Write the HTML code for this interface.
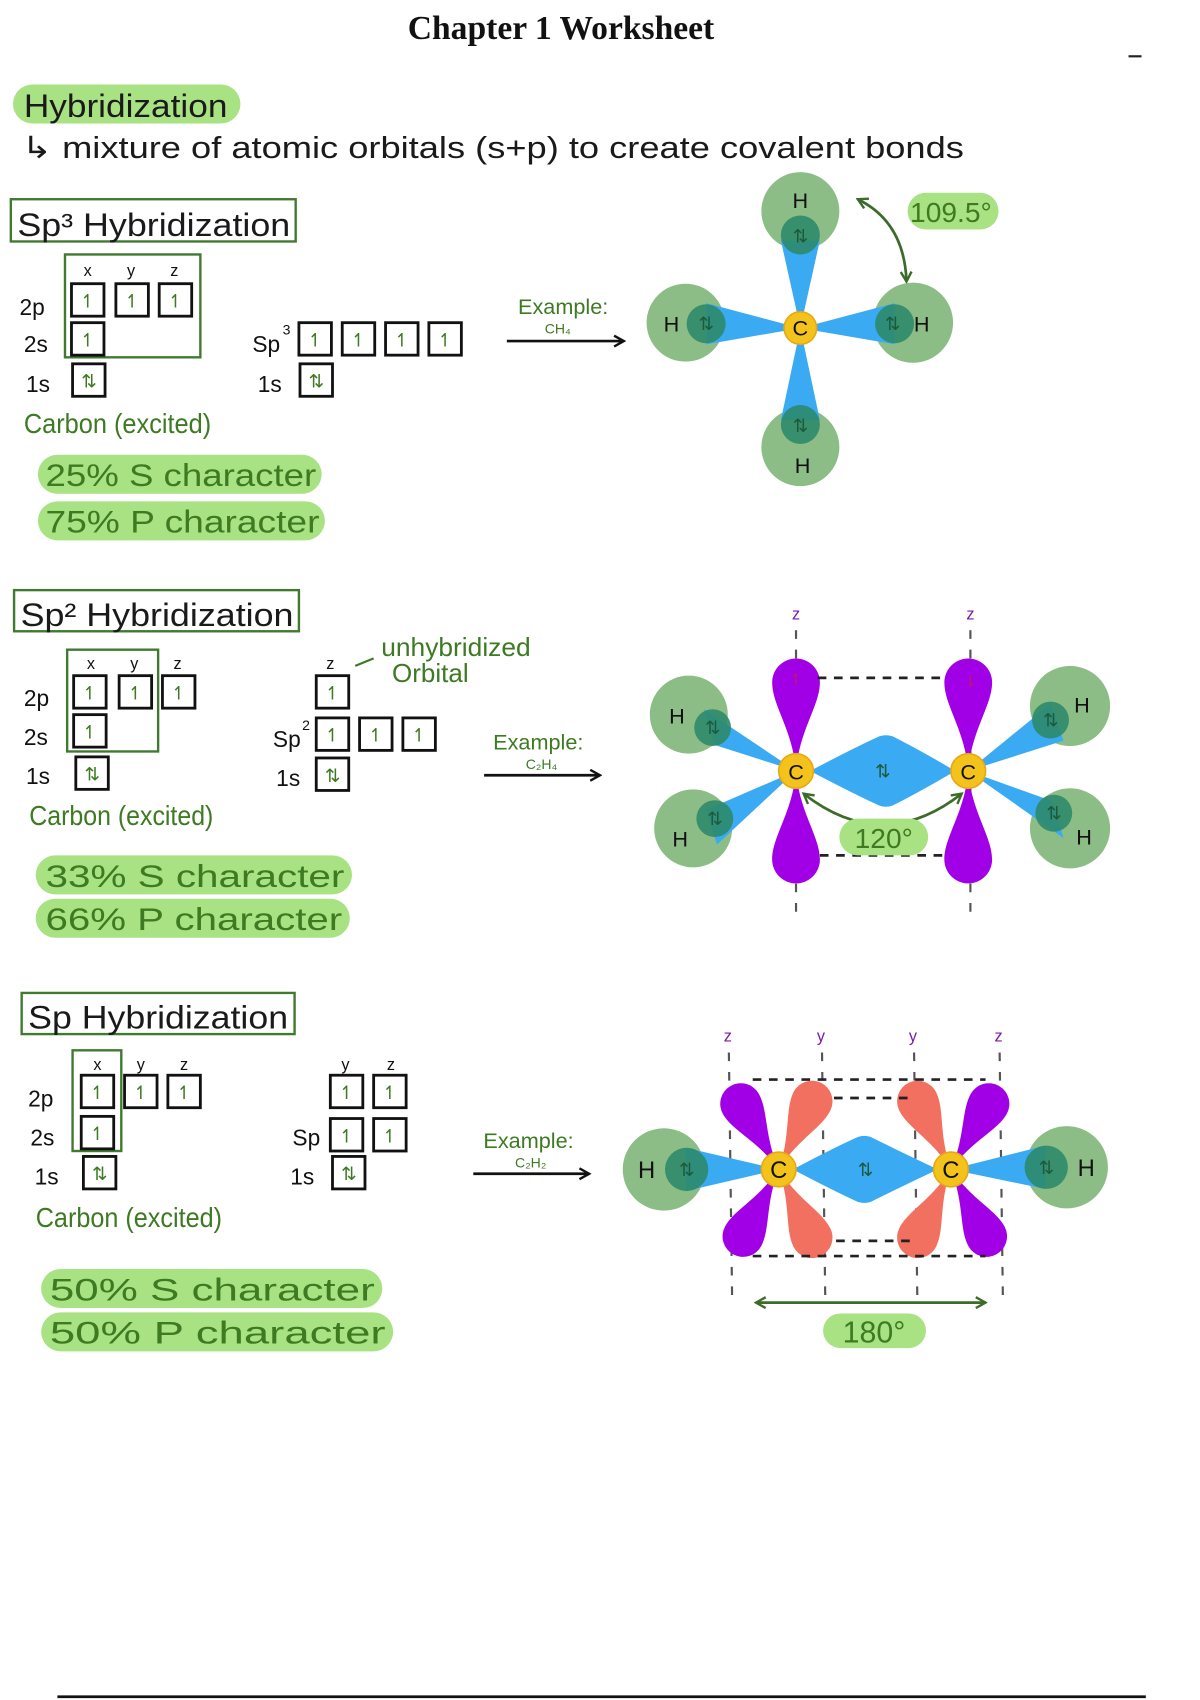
<!DOCTYPE html>
<html><head><meta charset="utf-8"><style>
html,body{margin:0;padding:0;background:#fff;width:1200px;height:1700px;overflow:hidden}
svg{display:block}
.h{font-family:"Liberation Sans Narrow","Liberation Sans",sans-serif}
.g{fill:#3d7a22}
.k{fill:#1a1a1a}
.bx{fill:none;stroke:#111;stroke-width:2.6}
.gb{fill:none;stroke:#3f7a2e;stroke-width:2.2}
.pill{fill:#a8e283}
.e{font-family:"DejaVu Sans",sans-serif;font-size:17px;fill:#3d7a22;text-anchor:middle}
.lab{font-family:"Liberation Sans",sans-serif;font-size:21px;fill:#111}
.sm{font-family:"Liberation Sans",sans-serif;font-size:15px;fill:#111;text-anchor:middle}
.sup{font-family:"Liberation Sans",sans-serif;font-size:13px;fill:#111}
.Hc{fill:#8dbd86}
.Hi{fill:#2d8a6c;opacity:.9}
.cone{fill:#3aaaf3}
.C{fill:#f3c31b;stroke:#e8a715;stroke-width:1.5}
.pu{fill:#a100e6}
.sa{fill:#f2705f}
.dash{stroke:#222;stroke-width:2.5;stroke-dasharray:8 7;fill:none}
.vd{stroke:#555;stroke-width:2;stroke-dasharray:8 10;fill:none}
</style></head><body>
<svg width="1200" height="1700" viewBox="0 0 1108 1570" preserveAspectRatio="none" xmlns="http://www.w3.org/2000/svg">
<defs>
<path id="lobe" d="M0,0 C-4,-36 -21,-56 -21,-76 A21,21 0 0 1 21,-76 C21,-56 4,-36 0,0Z"/>
<path id="lobe2" d="M0,0 C-4,-34 -19,-52 -19,-70 A19,19 0 0 1 19,-70 C19,-52 4,-34 0,0Z"/>
<marker id="ah" markerUnits="userSpaceOnUse" markerWidth="12" markerHeight="12" refX="10" refY="6" orient="auto"><path d="M1,1 L10,6 L1,11" fill="none" stroke="#111" stroke-width="2.2"/></marker>
<marker id="ag" markerUnits="userSpaceOnUse" markerWidth="12" markerHeight="12" refX="10" refY="6" orient="auto-start-reverse"><path d="M1,1 L10,6 L1,11" fill="none" stroke="#3d6b2a" stroke-width="2.2"/></marker>
</defs>

<text x="518" y="36" text-anchor="middle" font-family="Liberation Serif,serif" font-weight="bold" font-size="31" fill="#111">Chapter 1 Worksheet</text>
<line x1="1042" y1="52" x2="1054" y2="52" stroke="#222" stroke-width="2"/>

<rect class="pill" x="12" y="78" width="210" height="36" rx="18"/>
<text class="h k" x="22" y="108" font-size="30" textLength="188" lengthAdjust="spacingAndGlyphs">Hybridization</text>
<text class="h k" x="20" y="146" font-size="28" textLength="870" lengthAdjust="spacingAndGlyphs">↳ mixture of atomic orbitals (s+p) to create covalent bonds</text>

<!-- SP3 -->
<rect class="gb" x="10" y="184" width="263" height="39"/>
<text class="h k" x="16" y="218" font-size="30" textLength="252" lengthAdjust="spacingAndGlyphs">Sp³ Hybridization</text>
<rect class="gb" x="60" y="235" width="125" height="95"/>
<text class="sm" x="81" y="255">x</text><text class="sm" x="121" y="255">y</text><text class="sm" x="161" y="255">z</text>
<text class="lab" x="18" y="291">2p</text><text class="lab" x="22" y="325">2s</text><text class="lab" x="24" y="362">1s</text>
<rect class="bx" x="66" y="262" width="30" height="30"/><rect class="bx" x="107" y="262" width="30" height="30"/><rect class="bx" x="147" y="262" width="30" height="30"/>
<rect class="bx" x="66" y="298" width="30" height="30"/><rect class="bx" x="67" y="336" width="30" height="30"/>
<g class="e"><text x="81" y="284">↿</text><text x="122" y="284">↿</text><text x="162" y="284">↿</text><text x="81" y="320">↿</text><text x="82" y="358">⇅</text></g>
<text class="h g" x="22" y="400" font-size="26" textLength="173" lengthAdjust="spacingAndGlyphs">Carbon (excited)</text>
<rect class="pill" x="35" y="420" width="262" height="36" rx="18"/><text class="h g" x="42" y="449" font-size="29" textLength="250" lengthAdjust="spacingAndGlyphs">25% S character</text>
<rect class="pill" x="35" y="463" width="265" height="36" rx="18"/><text class="h g" x="42" y="492" font-size="29" textLength="253" lengthAdjust="spacingAndGlyphs">75% P character</text>

<text class="lab" x="233" y="325">Sp</text><text class="sup" x="261" y="309">3</text>
<rect class="bx" x="276" y="298" width="30" height="30"/><rect class="bx" x="316" y="298" width="30" height="30"/><rect class="bx" x="356" y="298" width="30" height="30"/><rect class="bx" x="396" y="298" width="30" height="30"/>
<text class="lab" x="238" y="362">1s</text><rect class="bx" x="277" y="336" width="30" height="30"/>
<g class="e"><text x="291" y="320">↿</text><text x="331" y="320">↿</text><text x="371" y="320">↿</text><text x="411" y="320">↿</text><text x="292" y="358">⇅</text></g>
<text class="h g" x="520" y="290" font-size="20" text-anchor="middle">Example:</text>
<text class="h g" x="515" y="308" font-size="13" text-anchor="middle">CH₄</text>
<line x1="468" y1="315" x2="576" y2="315" stroke="#111" stroke-width="2.5" marker-end="url(#ah)"/>

<!-- CH4 -->
<circle class="Hc" cx="739" cy="195" r="36"/><circle class="Hc" cx="633" cy="298" r="36"/><circle class="Hc" cx="843" cy="298" r="37"/><circle class="Hc" cx="739" cy="413" r="36"/>
<polygon class="cone" points="739,303 721,222 757,222"/><polygon class="cone" points="739,303 721,388 757,388"/>
<polygon class="cone" points="739,303 652,280 652,318"/><polygon class="cone" points="739,303 826,280 826,318"/>
<circle class="Hi" cx="739" cy="217" r="18"/><circle class="Hi" cx="652" cy="299" r="18"/><circle class="Hi" cx="826" cy="299" r="18"/><circle class="Hi" cx="739" cy="392" r="18"/>
<circle class="C" cx="739" cy="303" r="15"/>
<g font-family="Liberation Sans,sans-serif" font-size="20" fill="#111" text-anchor="middle"><text x="739" y="310">C</text><text x="739" y="192">H</text><text x="620" y="306">H</text><text x="851" y="306">H</text><text x="741" y="437">H</text></g>
<g class="e" style="fill:#1d5a3a"><text x="739" y="224">⇅</text><text x="652" y="305">⇅</text><text x="824" y="305">⇅</text><text x="739" y="399">⇅</text></g>
<path d="M792,184 Q835,205 837,260" fill="none" stroke="#3d6b2a" stroke-width="2.5" marker-start="url(#ag)" marker-end="url(#ag)"/>
<rect class="pill" x="838" y="178" width="84" height="34" rx="17"/><text class="h g" x="878" y="205" font-size="26" text-anchor="middle">109.5°</text>

<!-- SP2 -->
<rect class="gb" x="13" y="545" width="263" height="38"/>
<text class="h k" x="19" y="578" font-size="30" textLength="252" lengthAdjust="spacingAndGlyphs">Sp² Hybridization</text>
<rect class="gb" x="62" y="600" width="84" height="94"/>
<text class="sm" x="84" y="618">x</text><text class="sm" x="124" y="618">y</text><text class="sm" x="164" y="618">z</text>
<text class="lab" x="22" y="652">2p</text><text class="lab" x="22" y="688">2s</text><text class="lab" x="24" y="724">1s</text>
<rect class="bx" x="68" y="624" width="30" height="30"/><rect class="bx" x="110" y="624" width="30" height="30"/><rect class="bx" x="150" y="624" width="30" height="30"/>
<rect class="bx" x="68" y="660" width="30" height="30"/><rect class="bx" x="70" y="699" width="30" height="30"/>
<g class="e"><text x="83" y="646">↿</text><text x="125" y="646">↿</text><text x="165" y="646">↿</text><text x="83" y="682">↿</text><text x="85" y="721">⇅</text></g>
<text class="h g" x="27" y="762" font-size="26" textLength="170" lengthAdjust="spacingAndGlyphs">Carbon (excited)</text>
<rect class="pill" x="33" y="790" width="292" height="36" rx="18"/><text class="h g" x="42" y="819" font-size="29" textLength="276" lengthAdjust="spacingAndGlyphs">33% S character</text>
<rect class="pill" x="33" y="830" width="290" height="36" rx="18"/><text class="h g" x="42" y="859" font-size="29" textLength="274" lengthAdjust="spacingAndGlyphs">66% P character</text>

<text class="sm" x="305" y="618">z</text>
<rect class="bx" x="292" y="624" width="30" height="30"/>
<text class="lab" x="252" y="690">Sp</text><text class="sup" x="279" y="674">2</text>
<rect class="bx" x="292" y="663" width="30" height="30"/><rect class="bx" x="332" y="663" width="30" height="30"/><rect class="bx" x="372" y="663" width="30" height="30"/>
<text class="lab" x="255" y="726">1s</text><rect class="bx" x="292" y="700" width="30" height="30"/>
<g class="e"><text x="307" y="646">↿</text><text x="307" y="685">↿</text><text x="347" y="685">↿</text><text x="387" y="685">↿</text><text x="307" y="722">⇅</text></g>
<text class="h g" x="352" y="606" font-size="24" textLength="138" lengthAdjust="spacingAndGlyphs">unhybridized</text>
<text class="h g" x="362" y="630" font-size="24">Orbital</text>
<line x1="345" y1="608" x2="328" y2="615" stroke="#3d7a22" stroke-width="2"/>
<text class="h g" x="497" y="692" font-size="20" text-anchor="middle">Example:</text>
<text class="h g" x="500" y="710" font-size="13" text-anchor="middle">C₂H₄</text>
<line x1="447" y1="716" x2="554" y2="716" stroke="#111" stroke-width="2.5" marker-end="url(#ah)"/>

<!-- C2H4 -->
<line class="vd" x1="735" y1="582" x2="735" y2="850"/><line class="vd" x1="896" y1="582" x2="896" y2="850"/>
<text x="735" y="572" font-family="Liberation Sans,sans-serif" font-size="15" fill="#7a1aa8" text-anchor="middle">z</text>
<text x="896" y="572" font-family="Liberation Sans,sans-serif" font-size="15" fill="#7a1aa8" text-anchor="middle">z</text>
<circle class="Hc" cx="636" cy="660" r="36"/><circle class="Hc" cx="640" cy="765" r="36"/><circle class="Hc" cx="988" cy="652" r="37"/><circle class="Hc" cx="988" cy="765" r="37"/>
<use href="#lobe" class="pu" transform="translate(735,710) scale(1.05)"/>
<use href="#lobe" class="pu" transform="translate(735,714) rotate(180) scale(1.05)"/>
<use href="#lobe" class="pu" transform="translate(894,710) scale(1.05)"/>
<use href="#lobe" class="pu" transform="translate(894,714) rotate(180) scale(1.05)"/>
<polygon class="cone" points="735,712 650,655 660,688"/><polygon class="cone" points="735,712 652,748 662,780"/>
<polygon class="cone" points="894,712 970,650 982,684"/><polygon class="cone" points="894,712 972,740 982,774"/>
<path class="cone" d="M748,712 Q790,690 812,680 Q818,678 824,680 Q848,692 882,712 Q848,732 824,744 Q818,746 812,744 Q790,734 748,712Z"/>
<circle class="Hi" cx="658" cy="672" r="17"/><circle class="Hi" cx="660" cy="756" r="17"/><circle class="Hi" cx="970" cy="665" r="17"/><circle class="Hi" cx="973" cy="751" r="17"/>
<line class="dash" x1="755" y1="626" x2="875" y2="626"/><line class="dash" x1="757" y1="790" x2="875" y2="790"/>
<circle class="C" cx="735" cy="712" r="16"/><circle class="C" cx="894" cy="712" r="16"/>
<g font-family="Liberation Sans,sans-serif" font-size="20" fill="#111" text-anchor="middle"><text x="735" y="720">C</text><text x="894" y="720">C</text><text x="625" y="668">H</text><text x="628" y="782">H</text><text x="999" y="658">H</text><text x="1001" y="780">H</text></g>
<g class="e" style="fill:#1d5a3a"><text x="658" y="678">⇅</text><text x="660" y="762">⇅</text><text x="970" y="671">⇅</text><text x="973" y="757">⇅</text><text x="815" y="718">⇅</text></g>
<text x="735" y="632" font-family="DejaVu Sans,sans-serif" font-size="14" fill="#c2185b" text-anchor="middle">↿</text>
<text x="896" y="634" font-family="DejaVu Sans,sans-serif" font-size="14" fill="#c2185b" text-anchor="middle">⇂</text>
<path d="M742,733 Q815,790 888,733" fill="none" stroke="#3d6b2a" stroke-width="2.5" marker-start="url(#ag)" marker-end="url(#ag)"/>
<rect class="pill" x="775" y="756" width="82" height="34" rx="17"/><text class="h g" x="816" y="783" font-size="26" text-anchor="middle">120°</text>

<!-- SP -->
<rect class="gb" x="20" y="917" width="252" height="38"/>
<text class="h k" x="26" y="950" font-size="30" textLength="240" lengthAdjust="spacingAndGlyphs">Sp Hybridization</text>
<rect class="gb" x="67" y="970" width="45" height="93"/>
<text class="sm" x="90" y="988">x</text><text class="sm" x="130" y="988">y</text><text class="sm" x="170" y="988">z</text>
<text class="lab" x="26" y="1022">2p</text><text class="lab" x="28" y="1058">2s</text><text class="lab" x="32" y="1094">1s</text>
<rect class="bx" x="75" y="993" width="30" height="30"/><rect class="bx" x="115" y="993" width="30" height="30"/><rect class="bx" x="155" y="993" width="30" height="30"/>
<rect class="bx" x="75" y="1031" width="30" height="30"/><rect class="bx" x="77" y="1068" width="30" height="30"/>
<g class="e"><text x="90" y="1015">↿</text><text x="130" y="1015">↿</text><text x="170" y="1015">↿</text><text x="90" y="1053">↿</text><text x="92" y="1090">⇅</text></g>
<text class="h g" x="33" y="1133" font-size="26" textLength="172" lengthAdjust="spacingAndGlyphs">Carbon (excited)</text>
<rect class="pill" x="38" y="1172" width="315" height="36" rx="18"/><text class="h g" x="46" y="1201" font-size="29" textLength="300" lengthAdjust="spacingAndGlyphs">50% S character</text>
<rect class="pill" x="38" y="1212" width="325" height="36" rx="18"/><text class="h g" x="46" y="1241" font-size="29" textLength="310" lengthAdjust="spacingAndGlyphs">50% P character</text>

<text class="sm" x="319" y="988">y</text><text class="sm" x="361" y="988">z</text>
<rect class="bx" x="305" y="993" width="30" height="30"/><rect class="bx" x="345" y="993" width="30" height="30"/>
<text class="lab" x="270" y="1058">Sp</text>
<rect class="bx" x="305" y="1033" width="30" height="30"/><rect class="bx" x="345" y="1033" width="30" height="30"/>
<text class="lab" x="268" y="1094">1s</text><rect class="bx" x="307" y="1068" width="30" height="30"/>
<g class="e"><text x="320" y="1015">↿</text><text x="360" y="1015">↿</text><text x="320" y="1055">↿</text><text x="360" y="1055">↿</text><text x="322" y="1090">⇅</text></g>
<text class="h g" x="488" y="1060" font-size="20" text-anchor="middle">Example:</text>
<text class="h g" x="490" y="1078" font-size="13" text-anchor="middle">C₂H₂</text>
<line x1="437" y1="1084" x2="544" y2="1084" stroke="#111" stroke-width="2.5" marker-end="url(#ah)"/>

<!-- C2H2 -->
<g class="vd"><line x1="673" y1="972" x2="676" y2="1200"/><line x1="759" y1="972" x2="762" y2="1200"/><line x1="844" y1="972" x2="847" y2="1200"/><line x1="923" y1="972" x2="926" y2="1200"/></g>
<g font-family="Liberation Sans,sans-serif" font-size="15" fill="#7a1aa8" text-anchor="middle"><text x="672" y="962">z</text><text x="758" y="962">y</text><text x="843" y="962">y</text><text x="922" y="962">z</text></g>
<circle class="Hc" cx="613" cy="1080" r="38"/><circle class="Hc" cx="985" cy="1078" r="38"/>
<use href="#lobe2" class="pu" transform="translate(719,1080) rotate(-30)"/>
<use href="#lobe2" class="sa" transform="translate(719,1080) rotate(26)"/>
<use href="#lobe2" class="pu" transform="translate(719,1080) rotate(-152)"/>
<use href="#lobe2" class="sa" transform="translate(719,1080) rotate(154)"/>
<use href="#lobe2" class="sa" transform="translate(878,1080) rotate(-26)"/>
<use href="#lobe2" class="pu" transform="translate(878,1080) rotate(30)"/>
<use href="#lobe2" class="sa" transform="translate(878,1080) rotate(-154)"/>
<use href="#lobe2" class="pu" transform="translate(878,1080) rotate(152)"/>
<polygon class="cone" points="719,1080 633,1060 633,1100"/><polygon class="cone" points="878,1080 965,1058 965,1098"/>
<path class="cone" d="M732,1080 Q770,1060 792,1050 Q798,1048 804,1050 Q828,1062 866,1080 Q828,1098 804,1110 Q798,1112 792,1110 Q770,1100 732,1080Z"/>
<circle class="Hi" cx="634" cy="1080" r="20"/><circle class="Hi" cx="966" cy="1078" r="20"/>
<line class="dash" x1="695" y1="997" x2="910" y2="997"/><line class="dash" x1="770" y1="1014" x2="840" y2="1014"/>
<line class="dash" x1="695" y1="1160" x2="910" y2="1160"/><line class="dash" x1="772" y1="1146" x2="840" y2="1146"/>
<circle class="C" cx="719" cy="1080" r="16"/><circle class="C" cx="878" cy="1080" r="16"/>
<g font-family="Liberation Sans,sans-serif" font-size="22" fill="#111" text-anchor="middle"><text x="719" y="1088">C</text><text x="878" y="1088">C</text><text x="597" y="1088">H</text><text x="1003" y="1086">H</text></g>
<g class="e" style="fill:#1d5a3a"><text x="634" y="1086">⇅</text><text x="966" y="1084">⇅</text><text x="799" y="1086">⇅</text></g>
<line x1="698" y1="1203" x2="910" y2="1203" stroke="#3d6b2a" stroke-width="2.5" marker-start="url(#ag)" marker-end="url(#ag)"/>
<rect class="pill" x="760" y="1213" width="95" height="32" rx="16"/><text class="h g" x="807" y="1240" font-size="28" text-anchor="middle">180°</text>

<line x1="53" y1="1567" x2="1058" y2="1567" stroke="#111" stroke-width="2.5"/>
</svg>
</body></html>
